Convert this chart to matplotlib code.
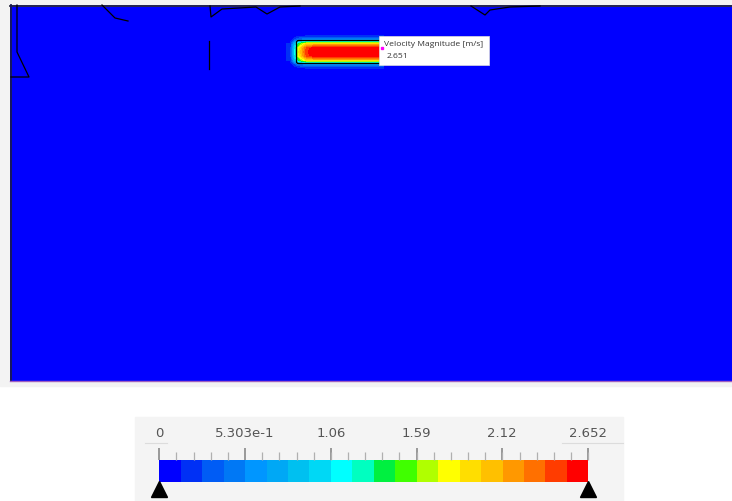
import matplotlib as mpl
import matplotlib.pyplot as plt
import numpy as np
from matplotlib.colors import ListedColormap, Normalize
from matplotlib.patches import FancyBboxPatch, Rectangle
from matplotlib.ticker import AutoMinorLocator

plt.rcParams["font.family"] = ["Open Sans", "DejaVu Sans"]

# colour legend: 20 bands from 0 to 2.652 m/s
band_colors = [
    "#0000ff", "#0030f5", "#005cf5", "#0078f5", "#0096ff",
    "#00a8f5", "#00c0f0", "#00d8f5", "#00ffff", "#00ffc0",
    "#00f040", "#40ff00", "#b0ff00", "#ffff00", "#ffde00",
    "#ffc000", "#ff9800", "#ff7000", "#ff3c00", "#ff0000",
]
v_min, v_max = 0.0, 2.652
tick_values = [0.0, 0.5303, 1.06, 1.59, 2.12, 2.652]
tick_labels = ["0", "5.303e-1", "1.06", "1.59", "2.12", "2.652"]

probe_label = "Velocity Magnitude [m/s]"
probe_value = "2.651"
probe_point = (382, 48)

# background flow (nearly still water), coarse samples
field_speed = np.array([
    [0.05, 0.06, 0.08, 0.07, 0.06, 0.05],
    [0.03, 0.04, 0.05, 0.05, 0.04, 0.03],
    [0.02, 0.02, 0.03, 0.03, 0.02, 0.02],
    [0.01, 0.01, 0.01, 0.01, 0.01, 0.01],
])
field_extent = (10, 732, 381, 5)

# inlet jet, sampled on a 9 x 12 grid
jet_speed = np.array([
    [0.00, 0.05, 0.10, 0.10, 0.10, 0.10, 0.10, 0.10, 0.10, 0.10, 0.10, 0.10],
    [0.05, 0.40, 0.55, 0.50, 0.50, 0.50, 0.50, 0.50, 0.50, 0.50, 0.50, 0.50],
    [0.15, 1.40, 1.95, 2.00, 2.00, 2.00, 2.00, 2.00, 2.00, 2.00, 2.00, 2.00],
    [0.20, 1.75, 2.45, 2.62, 2.63, 2.64, 2.64, 2.64, 2.64, 2.64, 2.64, 2.64],
    [0.20, 1.85, 2.50, 2.64, 2.65, 2.65, 2.65, 2.65, 2.65, 2.65, 2.65, 2.65],
    [0.20, 1.75, 2.45, 2.62, 2.63, 2.64, 2.64, 2.64, 2.64, 2.64, 2.64, 2.64],
    [0.15, 1.40, 1.95, 2.00, 2.00, 2.00, 2.00, 2.00, 2.00, 2.00, 2.00, 2.00],
    [0.05, 0.40, 0.55, 0.50, 0.50, 0.50, 0.50, 0.50, 0.50, 0.50, 0.50, 0.50],
    [0.00, 0.05, 0.10, 0.10, 0.10, 0.10, 0.10, 0.10, 0.10, 0.10, 0.10, 0.10],
])
jet_extent = (286, 384, 71, 33)

# geometry edges drawn on top of the contour
geometry_lines = [
    [(17, 5), (17, 52), (29, 77), (11, 77)],
    [(102, 5), (115, 18), (128, 21)],
    [(210, 6), (211, 17), (222, 9), (256, 7), (267, 14), (280, 7), (300, 6)],
    [(209, 41), (209, 69)],
    [(471, 6), (485, 15), (490, 10), (510, 7), (540, 6)],
]

cmap = ListedColormap(band_colors)
norm = Normalize(v_min, v_max)

fig = plt.figure(figsize=(7.32, 5.01), dpi=100, facecolor="white")
ax = fig.add_axes([0, 0, 1, 1])

# viewport and legend panel backgrounds
ax.add_patch(Rectangle((0, 0), 732, 386, color="#f3f3f3", zorder=0))
ax.add_patch(Rectangle((135, 417), 488, 84, color="#f4f4f4", zorder=0))

ax.imshow(field_speed, cmap=cmap, norm=norm, extent=field_extent,
          aspect="auto", interpolation="bilinear", zorder=1)
ax.imshow(jet_speed, cmap=cmap, norm=norm, extent=jet_extent,
          aspect="auto", interpolation="bilinear",
          interpolation_stage="data", zorder=2)

# domain borders
ax.plot([10, 732], [5.5, 5.5], color="#2a2a40", lw=1.3, zorder=3)
ax.plot([10.5, 10.5], [5, 381], color="#1a1a50", lw=1.3, zorder=3)
ax.plot([10, 732], [380.5, 380.5], color="#a060c0", lw=1.0, zorder=3)

for line in geometry_lines:
    xs, ys = zip(*line)
    ax.plot(xs, ys, color="black", lw=0.9, zorder=4)

ax.add_patch(FancyBboxPatch((298, 42), 86, 20,
                            boxstyle="round,pad=1.5,rounding_size=2",
                            fill=False, ec="black", lw=0.9, zorder=4))

# probe tooltip
ax.add_patch(Rectangle((379, 36), 110, 29, facecolor="white",
                       edgecolor="#dddddd", lw=0.5, zorder=5))
ax.plot(*probe_point, marker="s", ms=2, color="#ff00ff", zorder=6)
ax.text(384, 44, probe_label, fontsize=6.1, color="#333333",
        va="center", ha="left", zorder=6)
ax.text(387, 56.5, probe_value, fontsize=6.1, color="#333333",
        va="center", ha="left", zorder=6)

# underlines of the min / max entry boxes
ax.plot([145, 167], [443, 443], color="#dcdcdc", lw=0.8, zorder=1)
ax.plot([562, 623], [443, 443], color="#dcdcdc", lw=0.8, zorder=1)

ax.set_xlim(0, 732)
ax.set_ylim(501, 0)
ax.axis("off")

# colour bar
cax = fig.add_axes([159.3 / 732, (501 - 482) / 501, 429 / 732, 22 / 501])
cb = fig.colorbar(mpl.cm.ScalarMappable(norm=norm, cmap=cmap), cax=cax,
                  orientation="horizontal", ticklocation="top")
cb.outline.set_visible(False)
cb.set_ticks(tick_values)
cb.set_ticklabels(tick_labels)
cax.xaxis.set_minor_locator(AutoMinorLocator(5))
cax.tick_params(axis="x", which="major", length=8.6, width=1.2,
                color="#888888", pad=6, labelsize=9.5, labelcolor="#555555")
cax.tick_params(axis="x", which="minor", length=5.8, width=0.9,
                color="#b0b0b0")
for label in cax.get_xticklabels():
    label.set_family("DejaVu Sans")
cax.plot([v_min, v_max], [-0.33, -0.33], ls="none", marker="^", ms=11,
         color="black", clip_on=False, transform=cax.get_xaxis_transform())

fig.savefig("out.png", dpi=100)
